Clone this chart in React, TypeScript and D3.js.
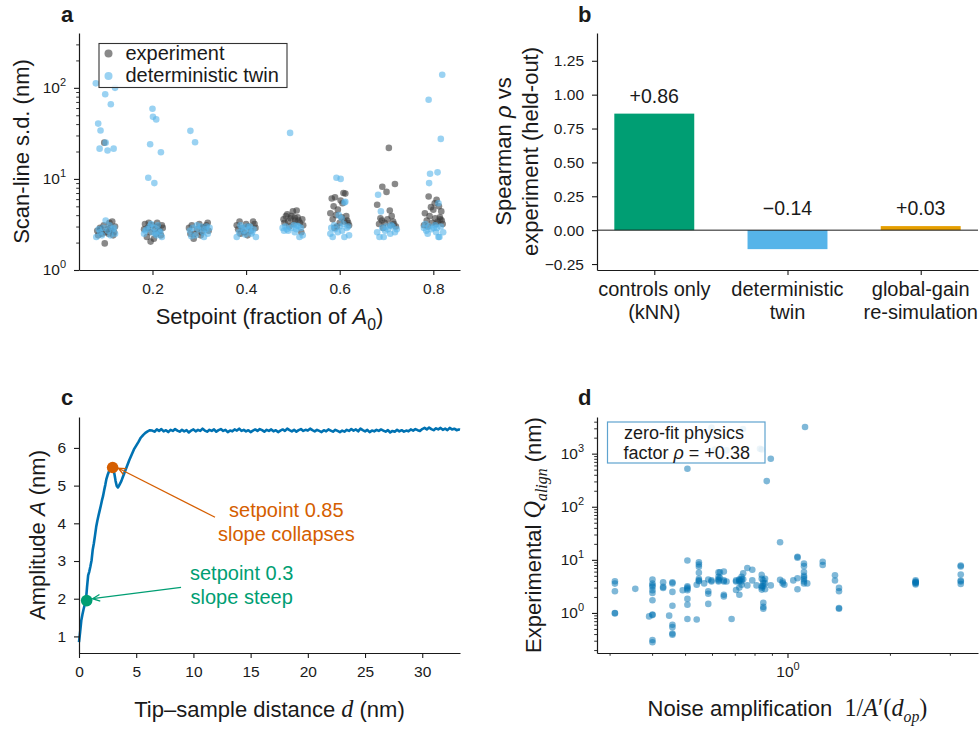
import React, { useEffect, useRef } from "react";
import * as d3 from "d3";

const FONT = "'Liberation Sans', Arial, Helvetica, sans-serif";
const SERIF = "'Liberation Serif', 'DejaVu Serif', serif";
const INK = "#1a1a1a";

// ---- panel a: scan-line s.d. per setpoint, points are [jitter offset, s.d. (nm)]
const setpoints = [0.1, 0.2, 0.3, 0.4, 0.5, 0.6, 0.7, 0.8];
const experimentPts = [
  [[-0.018, 2.7], [-0.012, 2.9], [-0.008, 2.5], [-0.004, 3.1], [0.0, 2.6], [0.004, 2.8], [0.008, 3.3], [0.012, 2.7], [0.016, 2.4], [0.02, 3.0], [-0.016, 2.4], [-0.002, 1.96], [0.006, 2.5], [0.014, 3.4], [-0.003, 25], [0.01, 2.9], [-0.01, 2.8], [0.018, 2.6]],
  [[-0.016, 3.2], [-0.01, 2.9], [-0.005, 2.6], [0.0, 3.1], [0.005, 2.8], [0.01, 3.3], [0.015, 2.7], [0.02, 3.1], [-0.012, 2.3], [-0.004, 2.05], [0.008, 2.5], [0.018, 2.4], [-0.018, 2.8], [0.003, 2.2], [0.012, 3.0], [-0.008, 3.3], [0.022, 2.9]],
  [[-0.022, 2.9], [-0.016, 3.1], [-0.01, 2.5], [-0.005, 2.8], [0.0, 3.2], [0.005, 2.6], [0.01, 2.9], [0.015, 3.1], [0.02, 2.7], [-0.012, 2.2], [0.003, 2.4], [0.018, 3.3], [-0.019, 2.5], [0.008, 2.95]],
  [[-0.02, 3.1], [-0.014, 3.4], [-0.009, 2.9], [-0.004, 2.6], [0.0, 3.2], [0.005, 3.0], [0.01, 2.7], [0.015, 3.4], [0.02, 2.9], [-0.012, 2.5], [0.003, 2.4], [0.018, 3.2], [-0.017, 2.8]],
  [[-0.02, 3.6], [-0.015, 3.9], [-0.01, 3.4], [-0.005, 3.7], [0.0, 4.4], [0.005, 3.5], [0.01, 3.8], [0.015, 3.3], [0.02, 3.6], [-0.012, 4.1], [0.002, 3.2], [0.008, 4.5], [0.018, 2.6], [-0.018, 3.3], [-0.003, 3.9], [0.012, 3.5], [0.022, 3.1], [-0.008, 3.0], [0.004, 3.75]],
  [[-0.017, 6.1], [-0.01, 6.3], [0.008, 7.0], [0.006, 5.4], [-0.013, 5.0], [-0.02, 4.2], [-0.015, 3.6], [-0.008, 4.0], [0.0, 3.3], [0.004, 3.8], [0.01, 3.4], [0.016, 3.5], [0.02, 3.1], [-0.004, 4.6], [0.012, 6.9], [-0.006, 3.0], [0.014, 3.9], [0.002, 5.8], [0.018, 3.3], [-0.011, 2.9]],
  [[0.005, 21.9], [-0.009, 8.2], [0.018, 8.8], [0.0, 7.2], [-0.02, 5.2], [0.007, 4.5], [-0.016, 3.2], [-0.01, 3.5], [-0.004, 3.3], [0.002, 3.6], [0.008, 3.1], [0.014, 3.4], [0.02, 3.0], [-0.013, 3.7], [0.011, 3.9], [-0.007, 2.9], [0.016, 3.2]],
  [[-0.01, 6.4], [0.007, 5.9], [-0.018, 4.2], [0.003, 5.4], [0.017, 4.4], [0.0, 4.6], [-0.014, 3.5], [-0.008, 3.9], [-0.002, 3.3], [0.004, 3.7], [0.01, 3.4], [0.014, 3.8], [0.02, 3.2], [-0.02, 3.1], [0.012, 5.0], [-0.005, 4.9], [0.018, 3.5], [-0.012, 3.0], [0.006, 3.2], [0.015, 3.6]],
];
const twinPts = [
  [[-0.021, 112], [-0.001, 85], [0.02, 100], [0.011, 66], [-0.016, 40.5], [-0.011, 34], [-0.013, 21.5], [0.004, 20.5], [0.017, 21.5], [0.0, 25], [-0.02, 2.3], [-0.012, 2.6], [-0.005, 2.9], [0.0, 3.5], [0.005, 2.7], [0.01, 2.4], [0.015, 2.8], [0.02, 2.5], [-0.015, 2.8], [0.008, 3.1], [-0.008, 2.4], [0.018, 2.9]],
  [[0.0, 59], [0.001, 48], [0.008, 45], [-0.005, 24], [0.018, 19.6], [-0.009, 10.3], [0.004, 9.0], [-0.018, 2.5], [-0.012, 2.8], [-0.006, 3.0], [0.0, 2.6], [0.004, 2.9], [0.009, 2.4], [0.014, 2.7], [0.02, 2.3], [-0.003, 3.2], [0.011, 3.1], [-0.015, 2.7], [0.017, 2.6], [0.006, 2.5]],
  [[-0.019, 33.7], [-0.009, 25.3], [-0.02, 2.7], [-0.014, 2.9], [-0.008, 2.4], [-0.002, 2.8], [0.003, 3.0], [0.008, 2.6], [0.013, 2.8], [0.018, 2.5], [0.022, 2.9], [-0.005, 3.1], [0.01, 2.3], [0.016, 3.0], [-0.017, 2.35]],
  [[-0.02, 2.3], [-0.015, 2.6], [-0.009, 2.9], [-0.004, 2.7], [0.001, 3.0], [0.006, 2.8], [0.011, 2.5], [0.016, 2.8], [0.021, 2.3], [-0.012, 3.1], [0.008, 3.0], [0.013, 2.6], [-0.002, 2.45]],
  [[-0.006, 32], [-0.022, 2.9], [-0.016, 3.0], [-0.01, 2.7], [-0.004, 2.9], [0.002, 3.1], [0.007, 2.8], [0.012, 3.0], [0.017, 2.9], [0.021, 2.4], [-0.013, 2.8], [0.004, 2.6], [0.014, 2.3], [-0.019, 2.7], [0.009, 3.05]],
  [[-0.007, 10.3], [0.002, 10.0], [0.01, 5.5], [0.012, 5.6], [-0.02, 2.5], [-0.015, 2.3], [-0.01, 2.8], [-0.004, 2.6], [0.0, 3.0], [0.005, 2.7], [0.01, 2.3], [0.015, 2.9], [0.02, 2.4], [-0.012, 3.1], [0.008, 3.2], [-0.018, 2.9], [0.018, 3.0], [-0.002, 4.0], [0.004, 3.7]],
  [[-0.018, 6.7], [-0.012, 4.4], [-0.02, 2.6], [-0.015, 2.3], [-0.009, 2.9], [-0.003, 2.7], [0.003, 2.8], [0.008, 2.5], [0.013, 3.0], [0.018, 2.6], [0.022, 2.8], [-0.006, 2.3], [0.01, 3.1], [0.0, 3.0]],
  [[0.019, 139], [-0.01, 74], [0.016, 27.5], [-0.007, 11.4], [0.009, 11.8], [-0.009, 9.0], [0.011, 5.4], [-0.02, 2.9], [-0.015, 2.7], [-0.009, 3.0], [-0.004, 2.8], [0.001, 2.9], [0.006, 2.6], [0.011, 2.3], [0.016, 3.0], [0.021, 2.6], [-0.012, 2.5], [0.004, 3.1], [0.013, 2.3], [-0.017, 3.2], [0.008, 2.9]],
];

// ---- panel b: held-out Spearman rho
const methods = [["controls only", "(kNN)"], ["deterministic", "twin"], ["global-gain", "re-simulation"]];
const spearman = [0.86, -0.14, 0.03];
const spearmanText = ["+0.86", "\u22120.14", "+0.03"];
const barColors = ["#009E73", "#56B4E9", "#E69F00"];

// ---- panel c: amplitude vs tip-sample distance, [d (nm), A (nm)]
const ampCurve = [
  [0, 0.85], [0.1, 1.12], [0.2, 1.42], [0.3, 1.58], [0.4, 1.72], [0.5, 1.84], [0.6, 1.93], [0.7, 2.3], [0.8, 2.62], [0.9, 2.72],
  [1.0, 2.86], [1.1, 3.02], [1.2, 3.3], [1.3, 3.47], [1.4, 3.68], [1.5, 3.9], [1.6, 4.06], [1.7, 4.2], [1.8, 4.33], [1.9, 4.46],
  [2.0, 4.6], [2.1, 4.72], [2.2, 4.88], [2.3, 5.02], [2.4, 5.18], [2.5, 5.28], [2.6, 5.36], [2.7, 5.44], [2.8, 5.5], [2.9, 5.53],
  [3.0, 5.46], [3.1, 5.3], [3.2, 5.12], [3.3, 4.99], [3.4, 4.95], [3.5, 5.0], [3.6, 5.06], [3.7, 5.12], [3.8, 5.2], [3.9, 5.28],
  [4.0, 5.36], [4.2, 5.52], [4.4, 5.68], [4.6, 5.82], [4.8, 5.96], [5.0, 6.06], [5.2, 6.16], [5.4, 6.27], [5.6, 6.34], [5.8, 6.4],
  [6.0, 6.44], [6.2, 6.47],
  [6.4, 6.46], [6.6, 6.43], [6.8, 6.49], [7.0, 6.45], [7.2, 6.5], [7.4, 6.44], [7.6, 6.47], [7.8, 6.42], [8.0, 6.48], [8.2, 6.45],
  [8.4, 6.5], [8.6, 6.46], [8.8, 6.43], [9.0, 6.48], [9.2, 6.44], [9.4, 6.47], [9.6, 6.41], [9.8, 6.46], [10.0, 6.49], [10.2, 6.44],
  [10.4, 6.48], [10.6, 6.45], [10.8, 6.51], [11.0, 6.46], [11.2, 6.43], [11.4, 6.48], [11.6, 6.45], [11.8, 6.49], [12.0, 6.43], [12.2, 6.47],
  [12.4, 6.5], [12.6, 6.45], [12.8, 6.48], [13.0, 6.42], [13.2, 6.46], [13.4, 6.44], [13.6, 6.49], [13.8, 6.46], [14.0, 6.51], [14.2, 6.45],
  [14.4, 6.48], [14.6, 6.44], [14.8, 6.47], [15.0, 6.42], [15.2, 6.46], [15.4, 6.49], [15.6, 6.45], [15.8, 6.5], [16.0, 6.47], [16.2, 6.43],
  [16.4, 6.48], [16.6, 6.45], [16.8, 6.49], [17.0, 6.44], [17.2, 6.47], [17.4, 6.42], [17.6, 6.46], [17.8, 6.49], [18.0, 6.45], [18.2, 6.51],
  [18.4, 6.47], [18.6, 6.44], [18.8, 6.48], [19.0, 6.43], [19.2, 6.47], [19.4, 6.5], [19.6, 6.45], [19.8, 6.48], [20.0, 6.46], [20.2, 6.51],
  [20.4, 6.47], [20.6, 6.44], [20.8, 6.48], [21.0, 6.45], [21.2, 6.42], [21.4, 6.47], [21.6, 6.44], [21.8, 6.49], [22.0, 6.46], [22.2, 6.43],
  [22.4, 6.48], [22.6, 6.45], [22.8, 6.42], [23.0, 6.46], [23.2, 6.43], [23.4, 6.48], [23.6, 6.45], [23.8, 6.5], [24.0, 6.46], [24.2, 6.49],
  [24.4, 6.44], [24.6, 6.51], [24.8, 6.47], [25.0, 6.44], [25.2, 6.48], [25.4, 6.42], [25.6, 6.46], [25.8, 6.44], [26.0, 6.48], [26.2, 6.45],
  [26.4, 6.49], [26.6, 6.46], [26.8, 6.43], [27.0, 6.47], [27.2, 6.41], [27.4, 6.45], [27.6, 6.43], [27.8, 6.48], [28.0, 6.44], [28.2, 6.47],
  [28.4, 6.43], [28.6, 6.46], [28.8, 6.44], [29.0, 6.49], [29.2, 6.46], [29.4, 6.5], [29.6, 6.47], [29.8, 6.45], [30.0, 6.5], [30.2, 6.53],
  [30.4, 6.49], [30.6, 6.54], [30.8, 6.5], [31.0, 6.47], [31.2, 6.52], [31.4, 6.49], [31.6, 6.53], [31.8, 6.48], [32.0, 6.51], [32.2, 6.47],
  [32.4, 6.53], [32.6, 6.49], [32.8, 6.51], [33.0, 6.47], [33.2, 6.49], [33.3, 6.48],
];
const setpointMarks = [
  { d: 0.67, a: 1.95, color: "#009E73", lines: ["setpoint 0.3", "slope steep"] },
  { d: 2.94, a: 5.48, color: "#D55E00", lines: ["setpoint 0.85", "slope collapses"] },
];
// text / arrow anchors in data coords (layout only)
const calloutLayout = [
  { text: [14.22, 2.5], tail: [8.92, 2.3], head: [1.19, 2.0] },
  { text: [18.12, 4.17], tail: [11.89, 4.16], head: [3.44, 5.46] },
];

// ---- panel d: [noise amplification 1/A'(d_op), Q_align (nm)]
const noiseQ = [
  [0.311, 3.95], [0.311, 3.57], [0.311, 2.56], [0.311, 1.0], [0.311, 0.98], [0.357, 2.84], [0.392, 0.86],
  [0.401, 4.25], [0.401, 3.57], [0.401, 3.09], [0.401, 2.67], [0.401, 2.38], [0.401, 1.73], [0.401, 0.93], [0.401, 0.91], [0.401, 0.31], [0.401, 0.28], [0.401, 3.3],
  [0.431, 3.78], [0.431, 3.09], [0.431, 2.95], [0.449, 0.89],
  [0.459, 3.78], [0.459, 3.6], [0.459, 2.49], [0.459, 1.37], [0.459, 0.6], [0.459, 0.54], [0.459, 0.39], [0.459, 0.41], [0.492, 2.67],
  [0.508, 9.7], [0.508, 521], [0.508, 3.18], [0.508, 2.84], [0.508, 2.67], [0.508, 3.0], [0.508, 1.84], [0.508, 1.43], [0.508, 0.77],
  [0.541, 0.75], [0.541, 3.4], [0.549, 9.0], [0.549, 8.15], [0.549, 7.4], [0.549, 5.7], [0.549, 4.38], [0.549, 3.95], [0.549, 4.1],
  [0.569, 3.6], [0.585, 2.55], [0.585, 4.25], [0.585, 1.48], [0.585, 2.3], [0.598, 4.1], [0.598, 3.9],
  [0.627, 5.8], [0.627, 4.8], [0.627, 4.3], [0.627, 3.9], [0.627, 4.1], [0.633, 5.8], [0.633, 4.6],
  [0.65, 2.2], [0.65, 2.05], [0.65, 4.1], [0.65, 6.0], [0.65, 3.9], [0.662, 3.9], [0.685, 0.77],
  [0.706, 4.1], [0.706, 3.9], [0.706, 2.7], [0.722, 2.2], [0.722, 3.0], [0.722, 3.9], [0.722, 4.1], [0.722, 4.3],
  [0.733, 4.8], [0.733, 4.3], [0.733, 3.9], [0.733, 3.4], [0.741, 5.6], [0.741, 4.3], [0.762, 7.0], [0.762, 3.3],
  [0.788, 6.5], [0.788, 4.1], [0.811, 3.3], [0.84, 5.2], [0.84, 4.4], [0.84, 3.2], [0.84, 3.0], [0.84, 2.75], [0.84, 1200],
  [0.849, 4.1], [0.849, 3.6], [0.849, 3.2], [0.849, 1.3], [0.849, 1.2], [0.849, 1.55], [0.859, 4.4], [0.859, 3.6], [0.859, 2.8],
  [0.869, 304], [0.893, 804], [0.893, 3.3], [0.951, 21.5], [0.951, 4.2], [0.968, 3.9], [0.968, 3.6], [0.979, 3.4], [1.04, 4.1],
  [1.07, 11.4], [1.07, 11.0], [1.07, 4.5], [1.07, 2.8],
  [1.118, 8.5], [1.118, 7.6], [1.118, 5.9], [1.118, 5.0], [1.118, 4.7], [1.118, 4.3], [1.118, 3.9], [1.118, 3.6], [1.126, 3177], [1.143, 3.6],
  [1.269, 9.2], [1.269, 8.0], [1.379, 5.1], [1.379, 4.07], [1.417, 2.96], [1.417, 2.56], [1.417, 1.24], [1.417, 1.2],
  [2.38, 4.1], [2.38, 3.9], [2.38, 3.8], [2.38, 3.7], [2.38, 3.6], [2.38, 3.45],
  [3.23, 7.8], [3.23, 7.5], [3.23, 5.3], [3.23, 4.07], [3.23, 3.9], [3.23, 3.5],
  [0.598, 3100], [0.612, 1200], [0.662, 1150], [0.74, 2900], [0.83, 1240],
];

function finishAxis(g: any, size = 15.5) {
  g.attr("font-family", FONT).attr("font-size", size);
  g.select(".domain").attr("stroke", INK).attr("stroke-width", 1.2);
  g.selectAll(".tick line").attr("stroke", INK).attr("stroke-width", 1.1);
  g.selectAll(".tick text").attr("fill", INK);
}

function minorAxis(parent: any, axis: any, transform: string) {
  const m = parent.append("g").attr("transform", transform).call(axis);
  m.select(".domain").remove();
  m.selectAll(".tick line").attr("stroke", INK).attr("stroke-width", 0.9);
  m.selectAll(".tick text").remove();
}

function powLabels(g: any) {
  g.selectAll(".tick text").each(function (this: any, d: any) {
    const t = d3.select(this);
    t.text("");
    t.append("tspan").text("10");
    t.append("tspan").attr("dy", -7).attr("font-size", 11).text(Math.round(Math.log10(d)));
  });
}

// styles: "" plain, "i" italic sans, "m" serif italic, "r" serif upright,
// "s" serif italic subscript, "u" upright sans subscript
function rich(sel: any, parts: any[], size: number) {
  let shift = 0;
  parts.forEach(([txt, st]) => {
    const ts = sel.append("tspan").text(txt);
    if (st === "i") ts.attr("font-style", "italic");
    if (st === "m" || st === "s") ts.attr("font-style", "italic").attr("font-family", SERIF);
    if (st === "r") ts.attr("font-family", SERIF);
    if (st === "m" || st === "r") ts.attr("font-size", size * 1.1);
    if (st === "s" || st === "u") {
      ts.attr("font-size", size * 0.72).attr("dy", size * 0.28 - shift);
      shift = size * 0.28;
    } else if (shift) {
      ts.attr("dy", -shift);
      shift = 0;
    }
  });
}

function panelLetter(svg: any, x: number, y: number, s: string) {
  svg.append("text").attr("x", x).attr("y", y).attr("font-family", FONT).attr("font-weight", "bold")
    .attr("font-size", 22).attr("fill", INK).text(s);
}

function drawA(svg: any) {
  const x = d3.scaleLinear().domain([0.043, 0.857]).range([79, 460]);
  const y = d3.scaleLog().domain([1, 400]).range([270, 33]);
  const g = svg.append("g");

  setpoints.forEach((s, i) => {
    g.append("g").selectAll("circle").data(experimentPts[i]).join("circle")
      .attr("cx", (d: any) => x(s + d[0])).attr("cy", (d: any) => y(d[1])).attr("r", 3.3)
      .attr("fill", "#3b3b3b").attr("fill-opacity", 0.6);
  });
  setpoints.forEach((s, i) => {
    g.append("g").selectAll("circle").data(twinPts[i]).join("circle")
      .attr("cx", (d: any) => x(s + d[0])).attr("cy", (d: any) => y(d[1])).attr("r", 3.3)
      .attr("fill", "#56B4E9").attr("fill-opacity", 0.6);
  });

  const xa = g.append("g").attr("transform", "translate(0,270)")
    .call(d3.axisBottom(x).tickValues([0.2, 0.4, 0.6, 0.8]).tickFormat(d3.format(".1f")).tickSize(5).tickPadding(8).tickSizeOuter(0));
  finishAxis(xa);
  const ya = g.append("g").attr("transform", "translate(79,0)")
    .call(d3.axisLeft(y).tickValues([1, 10, 100]).tickSize(5).tickPadding(8).tickSizeOuter(0));
  finishAxis(ya);
  powLabels(ya);
  const minors = [2, 3, 4, 5, 6, 7, 8, 9, 20, 30, 40, 50, 60, 70, 80, 90, 200, 300];
  minorAxis(g, d3.axisLeft(y).tickValues(minors).tickSize(2.8).tickFormat(() => ""), "translate(79,0)");

  // legend
  const lg = g.append("g");
  lg.append("rect").attr("x", 99).attr("y", 43.5).attr("width", 188).attr("height", 44)
    .attr("fill", "#fff").attr("fill-opacity", 0.85).attr("stroke", "#333").attr("stroke-width", 1.1);
  [["experiment", "#3b3b3b"], ["deterministic twin", "#56B4E9"]].forEach(([label, c], i) => {
    lg.append("circle").attr("cx", 108.5).attr("cy", 53.5 + i * 22.5).attr("r", 4).attr("fill", c).attr("fill-opacity", 0.6);
    lg.append("text").attr("x", 125.5).attr("y", 59.5 + i * 22.5).attr("font-family", FONT).attr("font-size", 20)
      .attr("fill", INK).text(label);
  });

  svg.append("text").attr("transform", "translate(29,151.5) rotate(-90)").attr("text-anchor", "middle")
    .attr("font-family", FONT).attr("font-size", 22).attr("fill", INK).text("Scan-line s.d. (nm)");
  const xl = svg.append("text").attr("x", 269.5).attr("y", 324).attr("text-anchor", "middle")
    .attr("font-family", FONT).attr("font-size", 22).attr("fill", INK);
  rich(xl, [["Setpoint (fraction of ", ""], ["A", "i"], ["0", "u"], [")", ""]], 22);
  panelLetter(svg, 61, 22, "a");
}

function drawB(svg: any) {
  const x = d3.scaleLinear().domain([-0.43, 2.43]).range([597, 978]);
  const y = d3.scaleLinear().domain([-0.294, 1.455]).range([270, 33]);
  const g = svg.append("g");
  const bw = x(0.6) - x(0);

  g.selectAll("rect.bar").data(spearman).join("rect").attr("class", "bar")
    .attr("x", (_: any, i: number) => x(i - 0.3)).attr("width", bw)
    .attr("y", (d: number) => y(Math.max(0, d))).attr("height", (d: number) => Math.abs(y(d) - y(0)))
    .attr("fill", (_: any, i: number) => barColors[i]);

  g.append("line").attr("x1", 597).attr("x2", 978).attr("y1", y(0)).attr("y2", y(0))
    .attr("stroke", INK).attr("stroke-width", 1);

  g.selectAll("text.val").data(spearman).join("text").attr("class", "val")
    .attr("x", (_: any, i: number) => x(i)).attr("y", (d: number) => y(Math.max(d, 0.03)) - 11)
    .attr("text-anchor", "middle").attr("font-family", FONT).attr("font-size", 19.5).attr("fill", INK)
    .text((_: any, i: number) => spearmanText[i]);

  const xa = g.append("g").attr("transform", "translate(0,270)")
    .call(d3.axisBottom(x).tickValues([0, 1, 2]).tickFormat(() => "").tickSize(5).tickSizeOuter(0));
  finishAxis(xa);
  methods.forEach((m, i) => {
    m.forEach((line, j) => {
      g.append("text").attr("x", x(i)).attr("y", 295.5 + j * 23.5).attr("text-anchor", "middle")
        .attr("font-family", FONT).attr("font-size", 20).attr("fill", INK).text(line);
    });
  });

  const ya = g.append("g").attr("transform", "translate(597,0)")
    .call(d3.axisLeft(y).tickValues([-0.25, 0, 0.25, 0.5, 0.75, 1.0, 1.25]).tickFormat(d3.format(".2f"))
      .tickSize(5).tickPadding(8).tickSizeOuter(0));
  finishAxis(ya);

  const l1 = svg.append("text").attr("transform", "translate(510.5,151.5) rotate(-90)").attr("text-anchor", "middle")
    .attr("font-family", FONT).attr("font-size", 22).attr("fill", INK);
  rich(l1, [["Spearman ", ""], ["\u03c1", "i"], [" vs", ""]], 22);
  svg.append("text").attr("transform", "translate(537.5,151.5) rotate(-90)").attr("text-anchor", "middle")
    .attr("font-family", FONT).attr("font-size", 22).attr("fill", INK).text("experiment (held-out)");
  panelLetter(svg, 578, 22, "b");
}

function arrowHead(g: any, hx: number, hy: number, tx: number, ty: number, color: string) {
  const ang = Math.atan2(ty - hy, tx - hx);
  const L = 8, w = 0.42;
  const p1 = [hx + L * Math.cos(ang + w), hy + L * Math.sin(ang + w)];
  const p2 = [hx + L * Math.cos(ang - w), hy + L * Math.sin(ang - w)];
  g.append("path").attr("d", `M${p1[0]},${p1[1]}L${hx},${hy}L${p2[0]},${p2[1]}`)
    .attr("fill", "none").attr("stroke", color).attr("stroke-width", 1.3);
}

function drawC(svg: any) {
  const x = d3.scaleLinear().domain([0, 33.3]).range([79, 460]);
  const y = d3.scaleLinear().domain([0.56, 6.82]).range([653, 417]);
  const g = svg.append("g");

  const line = d3.line().x((d: any) => x(d[0])).y((d: any) => y(d[1]));
  g.append("path").attr("d", line(ampCurve as any)).attr("fill", "none").attr("stroke", "#0072B2")
    .attr("stroke-width", 2.6).attr("stroke-linejoin", "round");

  setpointMarks.forEach((m, i) => {
    const c = calloutLayout[i];
    g.append("circle").attr("cx", x(m.d)).attr("cy", y(m.a)).attr("r", 5.8).attr("fill", m.color);
    const hx = x(c.head[0]), hy = y(c.head[1]), tx = x(c.tail[0]), ty = y(c.tail[1]);
    g.append("line").attr("x1", tx).attr("y1", ty).attr("x2", hx).attr("y2", hy)
      .attr("stroke", m.color).attr("stroke-width", 1.3);
    arrowHead(g, hx, hy, tx, ty, m.color);
    m.lines.forEach((t, j) => {
      g.append("text").attr("x", x(c.text[0])).attr("y", y(c.text[1]) + j * 24).attr("text-anchor", "middle")
        .attr("font-family", FONT).attr("font-size", 20).attr("fill", m.color).text(t);
    });
  });

  const xa = g.append("g").attr("transform", "translate(0,653)")
    .call(d3.axisBottom(x).tickValues([0, 5, 10, 15, 20, 25, 30]).tickSize(5).tickPadding(8).tickSizeOuter(0));
  finishAxis(xa);
  const ya = g.append("g").attr("transform", "translate(79,0)")
    .call(d3.axisLeft(y).tickValues([1, 2, 3, 4, 5, 6]).tickFormat(d3.format("d")).tickSize(5).tickPadding(8).tickSizeOuter(0));
  finishAxis(ya);

  const yl = svg.append("text").attr("transform", "translate(45,535) rotate(-90)").attr("text-anchor", "middle")
    .attr("font-family", FONT).attr("font-size", 22).attr("fill", INK);
  rich(yl, [["Amplitude ", ""], ["A", "i"], [" (nm)", ""]], 22);
  const xl = svg.append("text").attr("x", 269.5).attr("y", 717).attr("text-anchor", "middle")
    .attr("font-family", FONT).attr("font-size", 22).attr("fill", INK);
  rich(xl, [["Tip\u2013sample distance ", ""], ["d", "m"], [" (nm)", ""]], 22);
  panelLetter(svg, 61, 405, "c");
}

function drawD(svg: any) {
  const x = d3.scaleLog().domain([0.2755, 3.63]).range([597, 978]);
  const y = d3.scaleLog().domain([0.176, 4900]).range([653, 417]);
  const g = svg.append("g");

  g.selectAll("circle").data(noiseQ).join("circle")
    .attr("cx", (d: any) => x(d[0])).attr("cy", (d: any) => y(d[1])).attr("r", 3.3)
    .attr("fill", "#0072B2").attr("fill-opacity", 0.5);

  const xa = g.append("g").attr("transform", "translate(0,653)")
    .call(d3.axisBottom(x).tickValues([1]).tickSize(5).tickPadding(8).tickSizeOuter(0));
  finishAxis(xa);
  powLabels(xa);
  minorAxis(g, d3.axisBottom(x).tickValues([0.3, 0.4, 0.5, 0.6, 0.7, 0.8, 0.9, 2, 3]).tickSize(2.8), "translate(0,653)");

  const ya = g.append("g").attr("transform", "translate(597,0)")
    .call(d3.axisLeft(y).tickValues([1, 10, 100, 1000]).tickSize(5).tickPadding(8).tickSizeOuter(0));
  finishAxis(ya);
  powLabels(ya);
  const minors: number[] = [];
  [0.1, 1, 10, 100, 1000].forEach((dec) => {
    for (let k = 2; k <= 9; k++) if (dec * k >= 0.18 && dec * k <= 4800) minors.push(dec * k);
  });
  minorAxis(g, d3.axisLeft(y).tickValues(minors).tickSize(2.8), "translate(597,0)");

  // annotation box
  g.append("rect").attr("x", 607.5).attr("y", 422).attr("width", 157.5).attr("height", 41)
    .attr("fill", "#fff").attr("fill-opacity", 0.85).attr("stroke", "#5fa3cf").attr("stroke-width", 1.2);
  g.append("text").attr("x", 624).attr("y", 438.5).attr("font-family", FONT).attr("font-size", 18)
    .attr("fill", INK).text("zero-fit physics");
  const t2 = g.append("text").attr("x", 623.5).attr("y", 459).attr("font-family", FONT).attr("font-size", 18).attr("fill", INK);
  rich(t2, [["factor ", ""], ["\u03c1", "i"], [" = +0.38", ""]], 18);

  const yl = svg.append("text").attr("transform", "translate(541,535) rotate(-90)").attr("text-anchor", "middle")
    .attr("font-family", FONT).attr("font-size", 22).attr("fill", INK);
  rich(yl, [["Experimental ", ""], ["Q", "m"], ["align", "s"], [" (nm)", ""]], 22);
  const xl = svg.append("text").attr("x", 787.5).attr("y", 716).attr("text-anchor", "middle")
    .attr("font-family", FONT).attr("font-size", 22).attr("fill", INK).attr("xml:space", "preserve");
  rich(xl, [["Noise amplification  ", ""], ["1/", "r"], ["A", "m"], ["\u2032(", "r"], ["d", "m"], ["op", "s"], [")", "r"]], 22);
  panelLetter(svg, 578, 405, "d");
}

export default function App() {
  const ref = useRef<SVGSVGElement>(null);
  useEffect(() => {
    const svg = d3.select(ref.current);
    svg.selectAll("*").remove();
    drawA(svg);
    drawB(svg);
    drawC(svg);
    drawD(svg);
  }, []);
  return (
    <svg ref={ref} width={979} height={729}
      style={{ position: "absolute", left: 0, top: 0, background: "#fff" }} />
  );
}
